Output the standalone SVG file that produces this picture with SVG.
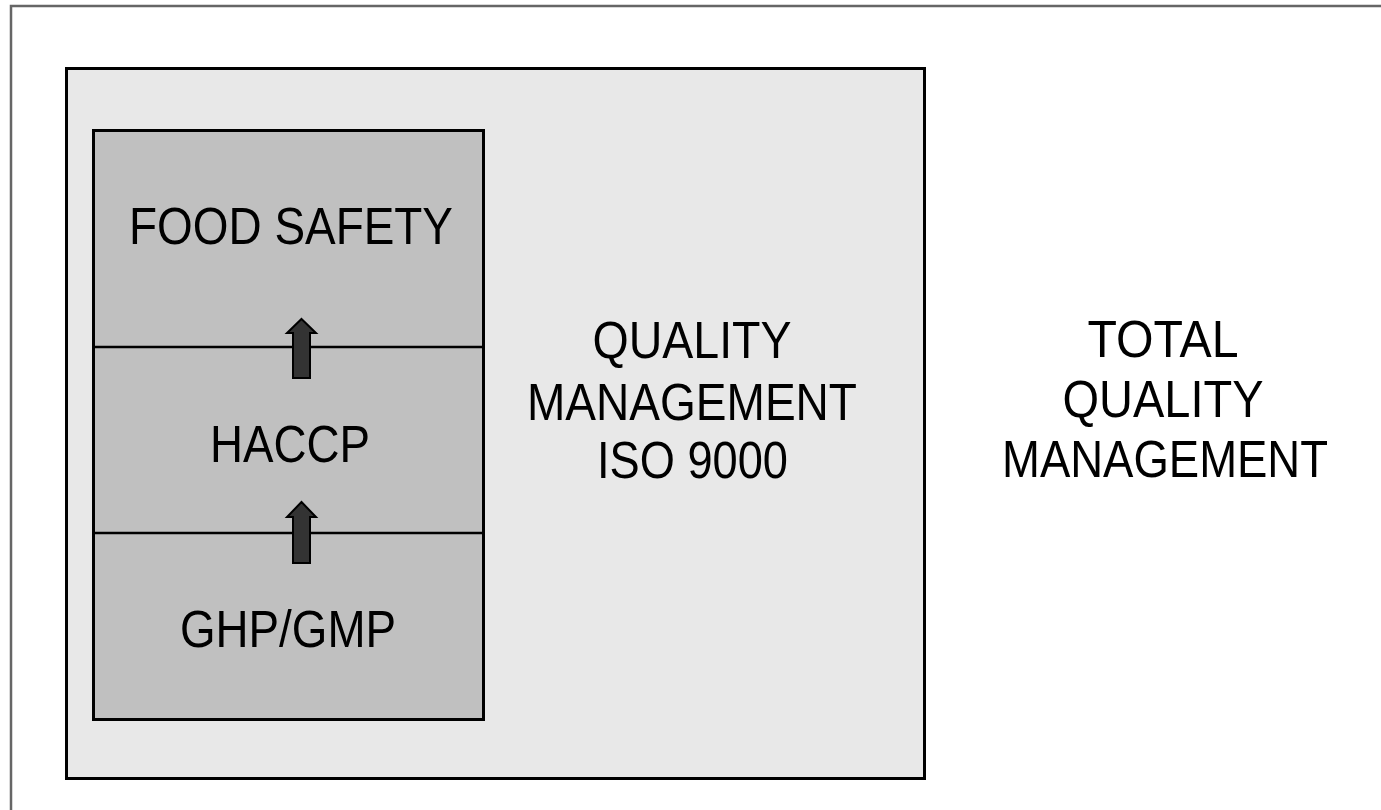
<svg xmlns="http://www.w3.org/2000/svg" width="1381" height="810" viewBox="0 0 1381 810">
<style>
.t{font-family:"Liberation Sans",Arial,sans-serif;font-size:52px;fill:#000;text-anchor:middle}
.arr{fill:#333;stroke:#000;stroke-width:2;stroke-linejoin:miter}
</style>
<rect x="0" y="0" width="1381" height="810" fill="#fff"/>
<rect x="11" y="6" width="1400" height="900" fill="#fff" stroke="#666" stroke-width="2.5"/>
<g id="tqm">
<text class="t" x="1163" y="357" textLength="151" lengthAdjust="spacingAndGlyphs">TOTAL</text>
<text class="t" x="1163" y="417" textLength="201" lengthAdjust="spacingAndGlyphs">QUALITY</text>
<text class="t" x="1165" y="477" textLength="326" lengthAdjust="spacingAndGlyphs">MANAGEMENT</text>
</g>
<g id="qm">
<rect x="66.5" y="68.5" width="858" height="710" fill="#e8e8e8" stroke="#000" stroke-width="3"/>
<text class="t" x="692" y="358" textLength="199" lengthAdjust="spacingAndGlyphs">QUALITY</text>
<text class="t" x="692" y="420" textLength="330" lengthAdjust="spacingAndGlyphs">MANAGEMENT</text>
<text class="t" x="692.5" y="478" textLength="191" lengthAdjust="spacingAndGlyphs">ISO 9000</text>
</g>
<g id="stack">
<rect x="93.5" y="130.5" width="390" height="589" fill="#c0c0c0" stroke="#000" stroke-width="3"/>
</g>
<g id="foodsafety">
<text class="t" x="291" y="244" textLength="324" lengthAdjust="spacingAndGlyphs">FOOD SAFETY</text>
</g>
<g id="haccp">
<line x1="93" y1="347" x2="484" y2="347" stroke="#000" stroke-width="2.5"/>
<text class="t" x="290" y="462" textLength="160" lengthAdjust="spacingAndGlyphs">HACCP</text>
</g>
<g id="ghp">
<line x1="93" y1="533" x2="484" y2="533" stroke="#000" stroke-width="2.5"/>
<text class="t" x="288" y="647" textLength="216" lengthAdjust="spacingAndGlyphs">GHP/GMP</text>
</g>
<g id="connectors">
<path class="arr" d="M301.5,319 L316,333 L310,333 L310,378 L293,378 L293,333 L287,333 Z"/>
<path class="arr" d="M301.5,502 L316,517 L310,517 L310,563 L293,563 L293,517 L287,517 Z"/>
</g>
</svg>
